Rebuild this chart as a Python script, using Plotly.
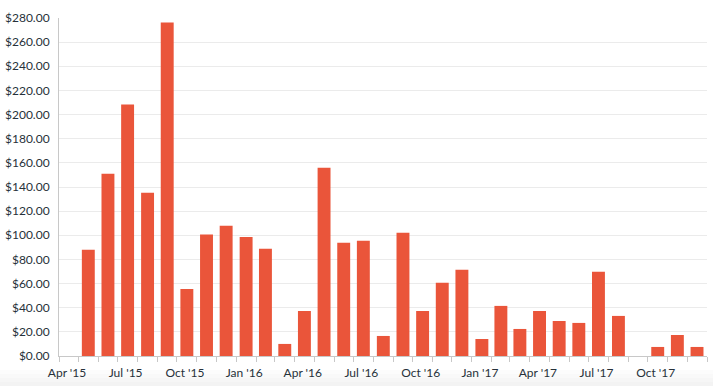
import plotly.graph_objects as go
import pandas as pd

months = pd.date_range("2015-05-01", "2017-12-01", freq="MS").strftime("%Y-%m-%d").tolist()
values = [88.0, 151.0, 208.3, 135.3, 276.3, 55.6, 100.7, 107.9, 98.5, 88.8,
          10.0, 37.3, 156.0, 93.8, 95.4, 16.6, 102.0, 37.3, 60.6, 71.4,
          14.1, 41.5, 22.4, 37.3, 29.0, 27.4, 69.7, 33.2, 0.0, 7.5, 17.4, 7.5]

all_month_starts = pd.date_range("2015-04-01", "2018-01-01", freq="MS")
label_map = {"2015-04": "Apr '15", "2015-07": "Jul '15", "2015-10": "Oct '15",
             "2016-01": "Jan '16", "2016-04": "Apr '16", "2016-07": "Jul '16",
             "2016-10": "Oct '16", "2017-01": "Jan '17", "2017-04": "Apr '17",
             "2017-07": "Jul '17", "2017-10": "Oct '17"}
tick_vals = all_month_starts.strftime("%Y-%m-%d").tolist()
tick_text = [label_map.get(d.strftime("%Y-%m"), "") for d in all_month_starts]

fig = go.Figure(go.Bar(
    x=months, y=values,
    xperiod="M1", xperiodalignment="middle",
    marker=dict(color="#EA553A", line=dict(width=0)),
    hovertemplate="%{x|%b %Y}: $%{y:.2f}<extra></extra>",
))

# subtle grey fade at the very bottom of the picture (paper coords relative to plot area)
H, T, B = 386, 18, 30
plot_h = H - T - B
base = H - B
shades = ["#fcfcfc", "#f9f9f9", "#f6f6f6", "#f3f3f3"]
for i, c in enumerate(shades):
    top_px = 370 + i * 4
    fig.add_shape(type="rect", xref="paper", yref="paper", layer="below",
                  x0=-0.2, x1=1.2, y0=(base - 400) / plot_h, y1=(base - top_px) / plot_h,
                  fillcolor=c, line=dict(width=0))

fig.update_layout(
    width=713, height=H,
    margin=dict(l=59, r=6, t=T, b=B, autoexpand=False),
    paper_bgcolor="white", plot_bgcolor="rgba(0,0,0,0)",
    bargap=0.32,
    showlegend=False,
    font=dict(family="Lato, 'Open Sans', sans-serif", size=12, color="#27313a"),
)

fig.update_xaxes(
    type="date",
    range=["2015-04-01", "2018-01-01"],
    tickmode="array",
    tickvals=tick_vals,
    ticktext=tick_text,
    ticks="outside", ticklen=5, tickcolor="#c8c8c8", tickwidth=1,
    ticklabelshift=8, ticklabelstandoff=1,
    showgrid=False, automargin=False,
    showline=True, linecolor="#c8c8c8", linewidth=1,
    tickfont=dict(size=12, color="#27313a"),
)

fig.update_yaxes(
    range=[0, 280], dtick=20, tick0=0,
    tickprefix="$", tickformat=".2f",
    showgrid=True, gridcolor="#ebebeb", gridwidth=1,
    zeroline=False, automargin=False,
    showline=True, linecolor="#c8c8c8", linewidth=1,
    ticks="", ticklabelstandoff=6,
    tickfont=dict(size=12, color="#27313a"),
)

fig.write_html("out.html", config={"displayModeBar": False},
               post_script="document.body.style.margin='0';")
